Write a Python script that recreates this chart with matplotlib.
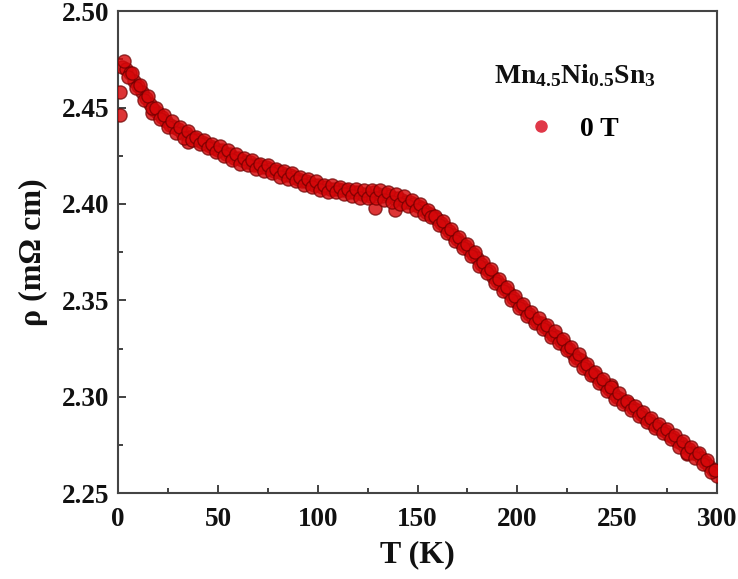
import matplotlib
matplotlib.use("Agg")
import matplotlib.pyplot as plt
from matplotlib.ticker import MultipleLocator
from matplotlib.lines import Line2D

plt.rcParams['font.family'] = ['Liberation Serif', 'DejaVu Serif']
plt.rcParams['font.weight'] = 'bold'
plt.rcParams['mathtext.fontset'] = 'custom'
plt.rcParams['mathtext.rm'] = 'Liberation Serif:bold'
plt.rcParams['mathtext.bf'] = 'Liberation Serif:bold'
plt.rcParams['mathtext.it'] = 'Liberation Serif:bold'

# sweep A (even temperatures) + a few stray points
temperature_a = [
    0.8, 1.2,
    2, 4, 6, 8, 10, 12, 14, 16, 18, 20, 22, 24, 26, 28, 30, 32, 34, 36, 38, 40,
    42, 44, 46, 48, 50, 52, 54, 56, 58, 60, 62, 64, 66, 68, 70, 72, 74, 76, 78, 80,
    82, 84, 86, 88, 90, 92, 94, 96, 98, 100, 102, 104, 106, 108, 110, 112, 114, 116, 118, 120,
    122, 124, 126, 128, 130, 132, 134, 136, 138, 140, 142, 144, 146, 148, 150, 152, 154, 156, 158, 160,
    162, 164, 166, 168, 170, 172, 174, 176, 178, 180, 182, 184, 186, 188, 190, 192, 194, 196, 198, 200,
    202, 204, 206, 208, 210, 212, 214, 216, 218, 220, 222, 224, 226, 228, 230, 232, 234, 236, 238, 240,
    242, 244, 246, 248, 250, 252, 254, 256, 258, 260, 262, 264, 266, 268, 270, 272, 274, 276, 278, 280,
    282, 284, 286, 288, 290, 292, 294, 296, 298, 300,
    128.5, 138.5, 17, 35, 247, 285,
]
resistivity_a = [
    2.446, 2.458,
    2.471, 2.470, 2.468, 2.464, 2.461, 2.458, 2.455, 2.452, 2.449, 2.447, 2.445, 2.443, 2.441, 2.440, 2.439, 2.437, 2.437, 2.435, 2.434, 2.433,
    2.432, 2.431, 2.430, 2.429, 2.428, 2.428, 2.426, 2.426, 2.424, 2.424, 2.423, 2.422, 2.422, 2.420, 2.420, 2.419, 2.419, 2.418, 2.417, 2.417,
    2.416, 2.415, 2.415, 2.414, 2.413, 2.412, 2.412, 2.411, 2.410, 2.410, 2.409, 2.409, 2.408, 2.408, 2.408, 2.407, 2.407, 2.406, 2.406, 2.406,
    2.405, 2.405, 2.404, 2.406, 2.405, 2.404, 2.405, 2.404, 2.403, 2.403, 2.402, 2.401, 2.401, 2.400, 2.399, 2.398, 2.396, 2.395, 2.394, 2.392,
    2.390, 2.388, 2.386, 2.384, 2.382, 2.380, 2.378, 2.376, 2.374, 2.372, 2.369, 2.367, 2.365, 2.362, 2.360, 2.358, 2.356, 2.354, 2.351, 2.349,
    2.347, 2.345, 2.343, 2.341, 2.339, 2.338, 2.336, 2.334, 2.332, 2.331, 2.329, 2.327, 2.325, 2.322, 2.320, 2.319, 2.316, 2.314, 2.312, 2.310,
    2.308, 2.306, 2.304, 2.302, 2.300, 2.299, 2.297, 2.296, 2.294, 2.293, 2.291, 2.289, 2.288, 2.286, 2.285, 2.283, 2.282, 2.280, 2.279, 2.277,
    2.276, 2.274, 2.273, 2.271, 2.270, 2.268, 2.266, 2.264, 2.262, 2.259,
    2.398, 2.397, 2.447, 2.432, 2.306, 2.270,
]

# sweep B (odd temperatures)
temperature_b = [
    3, 5, 7, 9, 11, 13, 15, 17, 19, 21, 23, 25, 27, 29, 31, 33, 35, 37, 39, 41,
    43, 45, 47, 49, 51, 53, 55, 57, 59, 61, 63, 65, 67, 69, 71, 73, 75, 77, 79, 81,
    83, 85, 87, 89, 91, 93, 95, 97, 99, 101, 103, 105, 107, 109, 111, 113, 115, 117, 119, 121,
    123, 125, 127, 129, 131, 133, 135, 137, 139, 141, 143, 145, 147, 149, 151, 153, 155, 157, 159, 161,
    163, 165, 167, 169, 171, 173, 175, 177, 179, 181, 183, 185, 187, 189, 191, 193, 195, 197, 199, 201,
    203, 205, 207, 209, 211, 213, 215, 217, 219, 221, 223, 225, 227, 229, 231, 233, 235, 237, 239, 241,
    243, 245, 247, 249, 251, 253, 255, 257, 259, 261, 263, 265, 267, 269, 271, 273, 275, 277, 279, 281,
    283, 285, 287, 289, 291, 293, 295, 297, 299,
]
resistivity_b = [
    2.474, 2.466, 2.468, 2.460, 2.462, 2.454, 2.456, 2.450, 2.450, 2.444, 2.446, 2.440, 2.443, 2.437, 2.440, 2.434, 2.438, 2.433, 2.435, 2.431,
    2.433, 2.429, 2.431, 2.427, 2.430, 2.425, 2.428, 2.423, 2.426, 2.421, 2.424, 2.420, 2.423, 2.418, 2.421, 2.417, 2.420, 2.416, 2.418, 2.414,
    2.417, 2.413, 2.416, 2.412, 2.414, 2.410, 2.413, 2.409, 2.412, 2.407, 2.410, 2.406, 2.410, 2.406, 2.409, 2.405, 2.408, 2.404, 2.408, 2.403,
    2.407, 2.403, 2.407, 2.403, 2.407, 2.402, 2.406, 2.401, 2.405, 2.400, 2.404, 2.399, 2.402, 2.397, 2.400, 2.395, 2.397, 2.393, 2.394, 2.389,
    2.391, 2.385, 2.387, 2.381, 2.383, 2.377, 2.379, 2.373, 2.375, 2.368, 2.370, 2.364, 2.366, 2.359, 2.361, 2.355, 2.357, 2.350, 2.352, 2.346,
    2.348, 2.342, 2.344, 2.338, 2.341, 2.335, 2.337, 2.331, 2.334, 2.328, 2.330, 2.324, 2.326, 2.319, 2.322, 2.315, 2.317, 2.311, 2.313, 2.307,
    2.309, 2.303, 2.305, 2.299, 2.302, 2.296, 2.298, 2.293, 2.295, 2.290, 2.292, 2.287, 2.289, 2.284, 2.286, 2.281, 2.283, 2.278, 2.280, 2.274,
    2.277, 2.271, 2.274, 2.268, 2.271, 2.265, 2.267, 2.261, 2.262,
]

x_ticks = [0, 50, 100, 150, 200, 250, 300]
y_ticks = [2.25, 2.30, 2.35, 2.40, 2.45, 2.50]
legend_title = r'$\mathbf{Mn_{4.5}Ni_{0.5}Sn_3}$'
legend_label = '0 T'

fig = plt.figure(figsize=(7.38, 5.79), dpi=100)
ax = fig.add_axes([0.160, 0.1485, 0.8115, 0.832])

marker_style = dict(linestyle='none', marker='o', markersize=9.5,
                    markerfacecolor=(0.84, 0.03, 0.04, 0.82),
                    markeredgecolor=(0.42, 0.0, 0.0, 0.7),
                    markeredgewidth=1.0, zorder=3)
ax.plot(temperature_a, resistivity_a, **marker_style)
ax.plot(temperature_b, resistivity_b, **marker_style)

ax.set_xlim(0, 300)
ax.set_ylim(2.25, 2.50)
ax.set_xticks(x_ticks)
ax.set_yticks(y_ticks)
ax.set_xticklabels([str(v) for v in x_ticks])
ax.set_yticklabels([f"{v:.2f}" for v in y_ticks])
ax.xaxis.set_minor_locator(MultipleLocator(25))
ax.yaxis.set_minor_locator(MultipleLocator(0.025))
ax.tick_params(which='both', direction='in', top=False, right=False, colors='#333333',
               labelcolor='#111111', labelsize=19.5, width=1.3)
ax.tick_params(which='major', length=6)
ax.tick_params(axis='y', which='major', pad=6)
ax.tick_params(axis='x', which='major', pad=10)
ax.tick_params(which='minor', length=3.5)
for lbl in ax.get_xticklabels() + ax.get_yticklabels():
    lbl.set_fontweight('bold')
for s in ax.spines.values():
    s.set_linewidth(1.5)
    s.set_color('#444444')

ax.set_xlabel('T (K)', fontsize=23, fontweight='bold', color='#111111', labelpad=6)
ax.set_ylabel('ρ (mΩ cm)', fontsize=23, fontweight='bold', color='#111111', labelpad=10)

ax.text(0.763, 0.867, legend_title, transform=ax.transAxes, ha='center', va='center',
        fontsize=20, color='#111111')

handle = Line2D([], [], linestyle='none', marker='o', markersize=8,
                markerfacecolor='#e03848', markeredgecolor='#e03848')
ax.legend([handle], [legend_label], loc='center left', bbox_to_anchor=(0.683, 0.755),
          frameon=False, prop={'size': 20, 'weight': 'bold'},
          handlelength=1.0, handletextpad=0.9, borderaxespad=0.0, borderpad=0.0)

fig.savefig('out.png', dpi=100, facecolor='white')
